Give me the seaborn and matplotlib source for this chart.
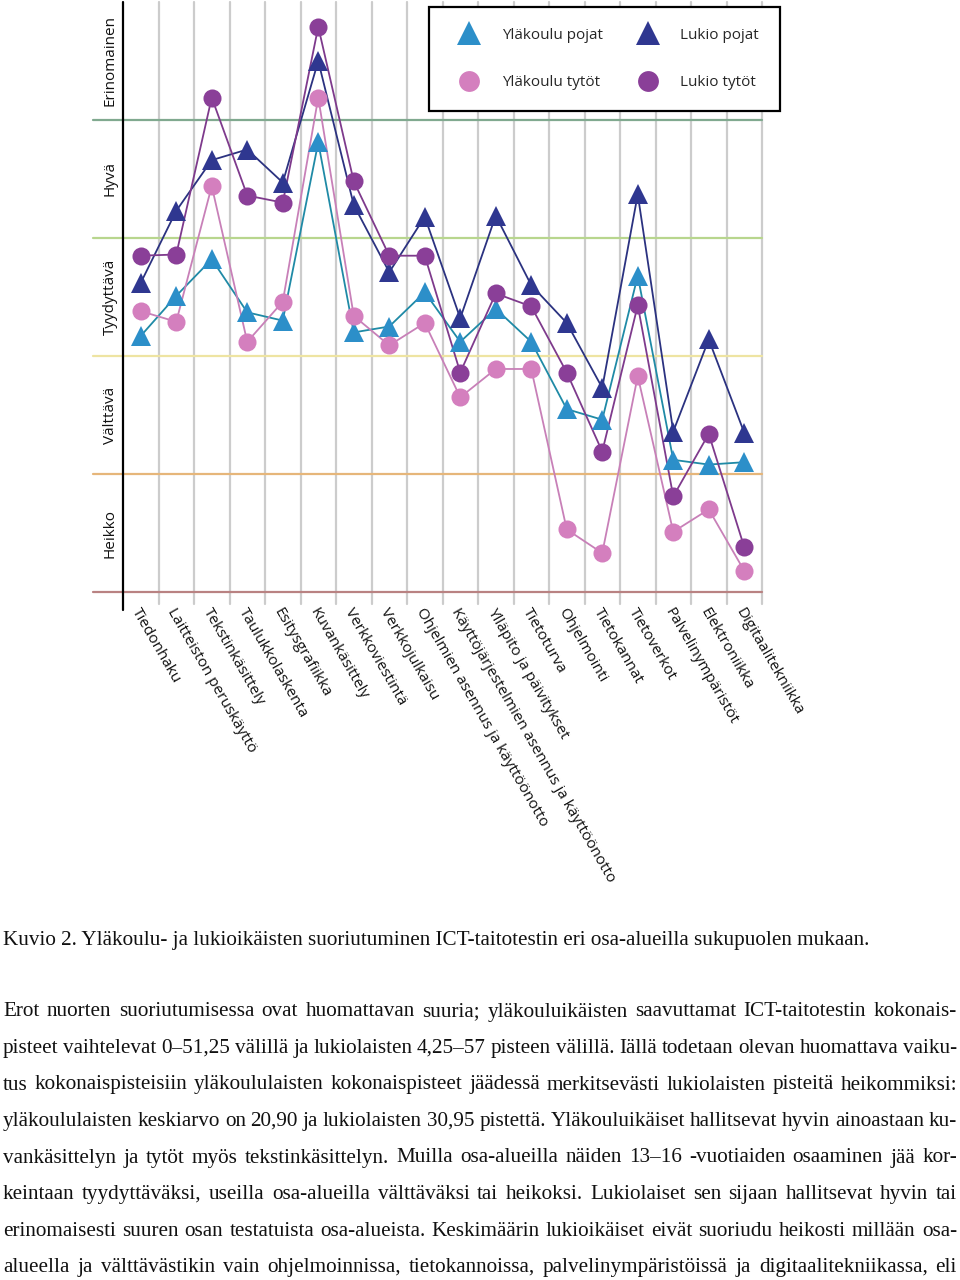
import numpy as np
import pandas as pd
import seaborn as sns
import matplotlib.pyplot as plt
from matplotlib.lines import Line2D
import matplotlib.transforms as mtransforms

# Data (0 = bottom of "Heikko", 5 = top of "Erinomainen")
categories = [
    "Tiedonhaku", "Laitteiston peruskäyttö", "Tekstinkäsittely", "Taulukkolaskenta",
    "Esitysgrafiikka", "Kuvankäsittely", "Verkkoviestintä", "Verkkojulkaisu",
    "Ohjelmien asennus ja käyttöönotto", "Käyttöjärjestelmien asennus ja käyttöönotto",
    "Ylläpito ja päivitykset", "Tietoturva", "Ohjelmointi", "Tietokannat",
    "Tietoverkot", "Palvelinympäristöt", "Elektroniikka", "Digitaalitekniikka",
]
ylakoulu_pojat = [2.17, 2.51, 2.82, 2.37, 2.30, 3.81, 2.20, 2.25, 2.54, 2.12,
                  2.40, 2.12, 1.55, 1.46, 2.68, 1.12, 1.08, 1.10]
lukio_pojat = [2.62, 3.23, 3.66, 3.75, 3.47, 4.50, 3.28, 2.71, 3.18, 2.32,
               3.19, 2.60, 2.28, 1.73, 3.37, 1.36, 2.14, 1.35]
ylakoulu_tytot = [2.38, 2.29, 3.44, 2.12, 2.46, 4.19, 2.34, 2.09, 2.28, 1.65,
                  1.89, 1.89, 0.53, 0.33, 1.83, 0.51, 0.70, 0.18]
lukio_tytot = [2.85, 2.86, 4.19, 3.36, 3.30, 4.79, 3.48, 2.85, 2.85, 1.86,
               2.53, 2.42, 1.86, 1.19, 2.43, 0.81, 1.34, 0.38]

levels = ["Heikko", "Välttävä", "Tyydyttävä", "Hyvä", "Erinomainen"]
level_line_colors = ["#b98282", "#e6b67a", "#eee4a2", "#b8d68e", "#80a98f"]

series_names = ["Yläkoulu pojat", "Yläkoulu tytöt", "Lukio pojat", "Lukio tytöt"]
series_values = [ylakoulu_pojat, ylakoulu_tytot, lukio_pojat, lukio_tytot]
marker_colors = {"Yläkoulu pojat": "#2c8fc9", "Yläkoulu tytöt": "#d47fbe",
                 "Lukio pojat": "#2f3790", "Lukio tytöt": "#8a3f98"}
line_colors = {"Yläkoulu pojat": "#1f8aa6", "Yläkoulu tytöt": "#c880b8",
               "Lukio pojat": "#2b3280", "Lukio tytöt": "#7e3a8c"}
markers = {"Yläkoulu pojat": "^", "Yläkoulu tytöt": "o",
           "Lukio pojat": "^", "Lukio tytöt": "o"}
marker_sizes = {"^": 15, "o": 13}

caption = ("Kuvio 2. Yläkoulu- ja lukioikäisten suoriutuminen ICT-taitotestin eri "
           "osa-alueilla sukupuolen mukaan.")
paragraph = [
    "Erot nuorten suoriutumisessa ovat huomattavan suuria; yläkouluikäisten saavuttamat ICT-taitotestin kokonais-",
    "pisteet vaihtelevat 0–51,25 välillä ja lukiolaisten 4,25–57 pisteen välillä. Iällä todetaan olevan huomattava vaiku-",
    "tus kokonaispisteisiin yläkoululaisten kokonaispisteet jäädessä merkitsevästi lukiolaisten pisteitä heikommiksi:",
    "yläkoululaisten keskiarvo on 20,90 ja lukiolaisten 30,95 pistettä. Yläkouluikäiset hallitsevat hyvin ainoastaan ku-",
    "vankäsittelyn ja tytöt myös tekstinkäsittelyn. Muilla osa-alueilla näiden 13–16 -vuotiaiden osaaminen jää kor-",
    "keintaan tyydyttäväksi, useilla osa-alueilla välttäväksi tai heikoksi. Lukiolaiset sen sijaan hallitsevat hyvin tai",
    "erinomaisesti suuren osan testatuista osa-alueista. Keskimäärin lukioikäiset eivät suoriudu heikosti millään osa-",
    "alueella ja välttävästikin vain ohjelmoinnissa, tietokannoissa, palvelinympäristöissä ja digitaalitekniikassa, eli",
]

# Long-form table for seaborn
rows = []
for name, vals in zip(series_names, series_values):
    for i, v in enumerate(vals):
        rows.append({"pos": i, "value": v, "group": name})
df = pd.DataFrame(rows)

sns.set_theme(style="white")
plt.rcParams["font.family"] = ["Open Sans", "DejaVu Sans"]

W, H = 960, 1280
fig = plt.figure(figsize=(9.6, 12.8), dpi=100)
ax = fig.add_axes([123 / W, 1 - 592 / H, (762 - 123) / W, 590 / H])

n = len(categories)
ax.set_xlim(-0.5, n - 0.5)
ax.set_ylim(0, 5)

# Grey column separators with small tick extensions below the axis
for i in range(n):
    ax.plot([i + 0.5, i + 0.5], [-0.1, 5], color="#cccccc", lw=1.6,
            clip_on=False, zorder=1)

# Coloured level boundaries
for k, c in enumerate(level_line_colors):
    ax.plot([-1.35, n - 0.5], [k, k], color=c, lw=1.6, clip_on=False, zorder=1.5)

# Left axis line
ax.plot([-0.5, -0.5], [-0.15, 5], color="black", lw=1.6, clip_on=False, zorder=2)

for name in series_names:
    sub = df[df["group"] == name]
    m = markers[name]
    sns.lineplot(data=sub, x="pos", y="value", ax=ax, color=line_colors[name],
                 lw=1.3, legend=False, sort=False, zorder=3)
    ax.plot(sub["pos"], sub["value"], linestyle="none", marker=m,
            markersize=marker_sizes[m], color=marker_colors[name],
            markeredgewidth=0, zorder=4)

for s in ax.spines.values():
    s.set_visible(False)
ax.set_xlabel("")
ax.set_ylabel("")
ax.set_yticks([])
ax.set_xticks(range(n))
ax.set_xticklabels(categories, rotation=-60, ha="left", va="top",
                   rotation_mode="anchor", fontsize=11, color="#111111")
ax.tick_params(axis="x", length=0, pad=10)
for lab in ax.get_xticklabels():
    lab.set_transform(lab.get_transform() + mtransforms.ScaledTranslation(
        1 / 100, 0, fig.dpi_scale_trans))

# Level names along the left side
trans = mtransforms.blended_transform_factory(fig.transFigure, ax.transData)
for k, lvl in enumerate(levels):
    ax.text(110 / W, k + 0.5, lvl, transform=trans, rotation=90,
            ha="center", va="center", fontsize=11, color="#111111")

# Legend
handles = [Line2D([], [], linestyle="none", marker=markers[nm],
                  markersize=marker_sizes[markers[nm]] + 2,
                  color=marker_colors[nm], markeredgewidth=0)
           for nm in series_names]
leg = fig.legend(handles, series_names, loc="upper left", ncol=2,
                 bbox_to_anchor=(429 / W, 1 - 7 / H), frameon=True,
                 fontsize=11, borderpad=1.35, labelspacing=2.15,
                 handletextpad=0.85, columnspacing=1.6, handlelength=2.6,
                 borderaxespad=0, fancybox=False)
leg.get_frame().set_edgecolor("black")
leg.get_frame().set_linewidth(1.6)
leg.get_frame().set_alpha(1)

# Caption and justified paragraph below the chart
serif = ["Liberation Serif", "DejaVu Serif"]
fs = 15.2
fig.text(3 / W, 1 - 940 / H, caption, family=serif, fontsize=fs,
         ha="left", va="center", color="#111111")

renderer = fig.canvas.get_renderer()
left_px, right_px = 3, 957
y0, dy = 1012, 36.5
for li, line in enumerate(paragraph):
    words = line.split(" ")
    y = 1 - (y0 + li * dy) / H
    texts = [fig.text(0, y, w, family=serif, fontsize=fs, ha="left",
                      va="center", color="#111111") for w in words]
    widths = [t.get_window_extent(renderer).width for t in texts]
    gap = (right_px - left_px - sum(widths)) / max(len(words) - 1, 1)
    x = left_px
    for t, w in zip(texts, widths):
        t.set_x(x / W)
        x += w + gap

fig.savefig("out.png", dpi=100)
